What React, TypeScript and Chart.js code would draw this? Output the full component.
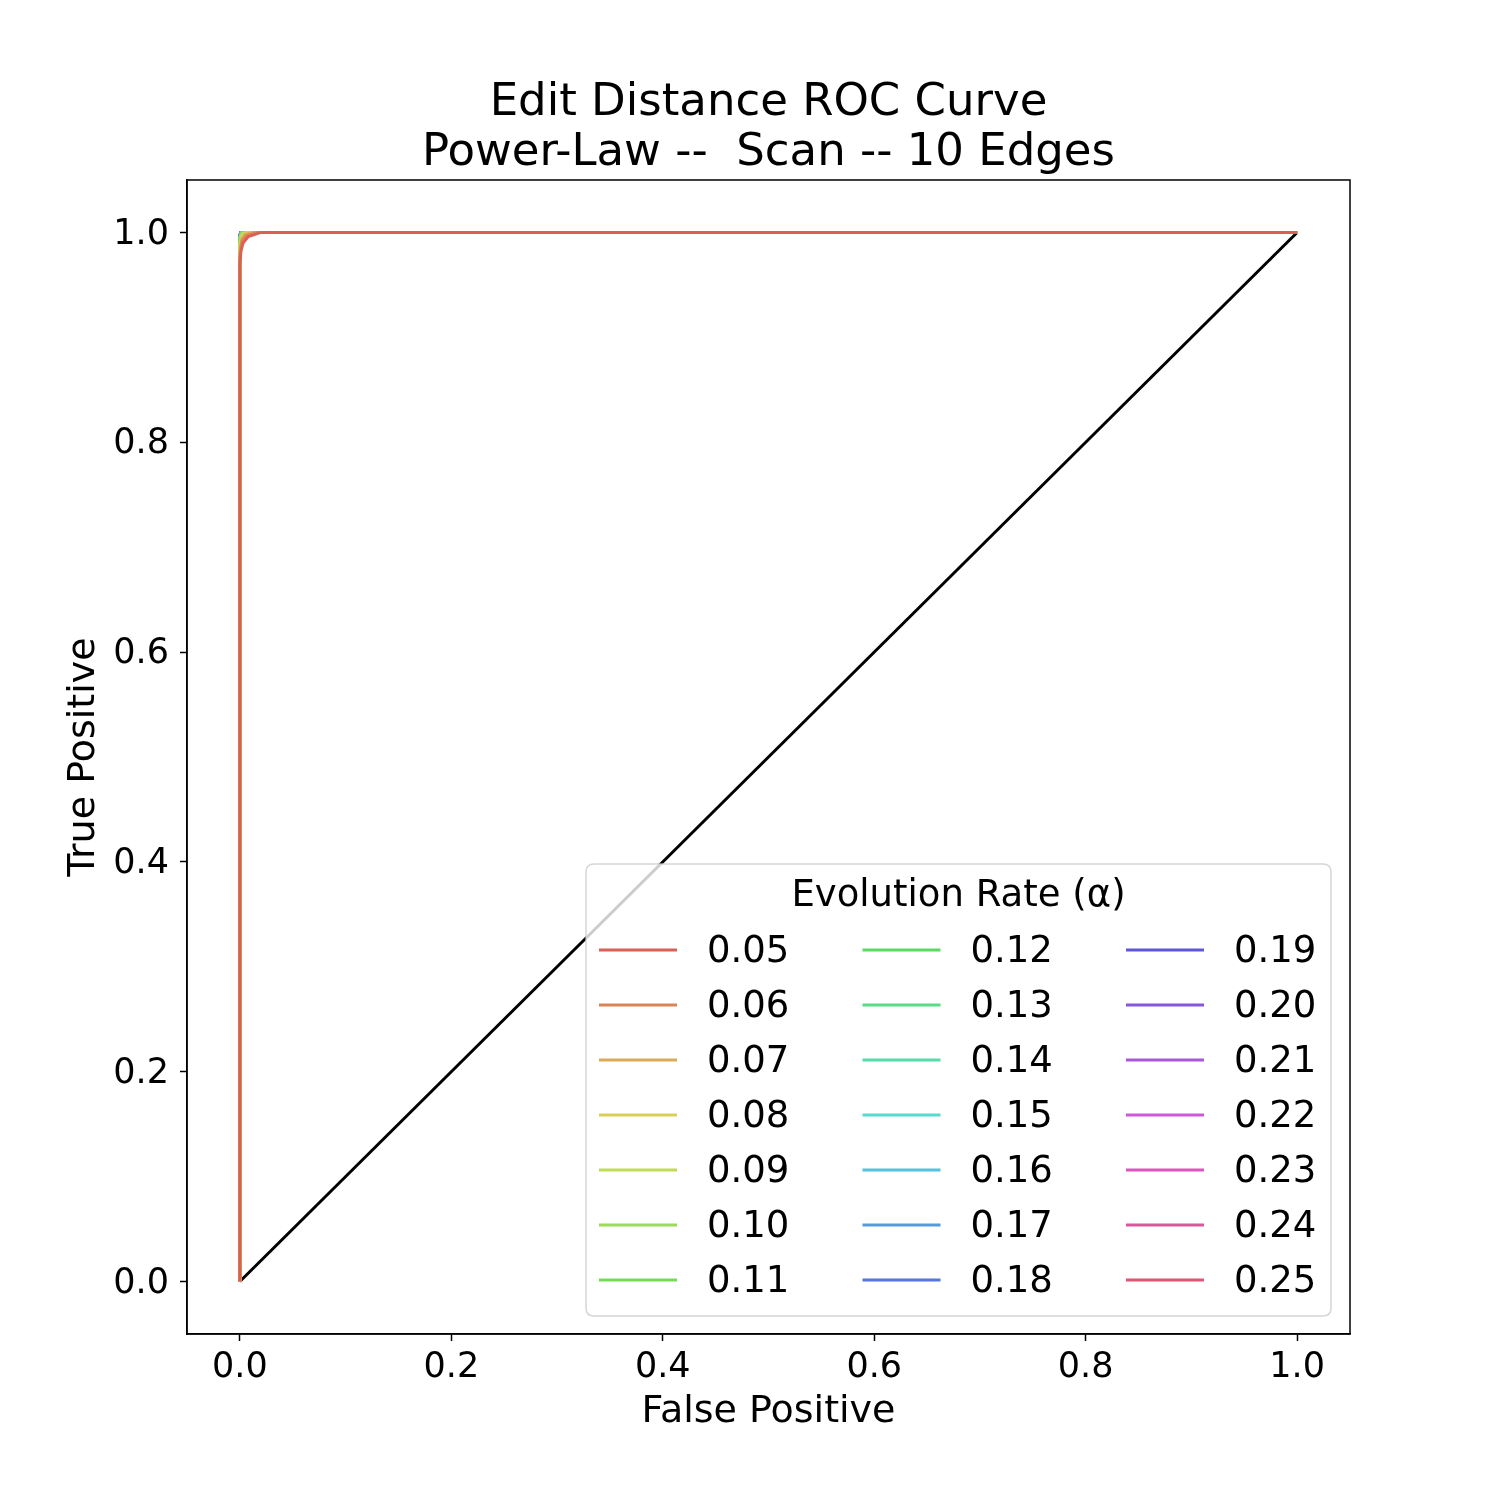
import React, { useEffect, useRef } from "react";
import { Chart, registerables } from "chart.js";

Chart.register(...registerables);

const titleLines = ["Edit Distance ROC Curve", "Power-Law --  Scan -- 10 Edges"];
const xAxisLabel = "False Positive";
const yAxisLabel = "True Positive";
const legendTitle = "Evolution Rate (\u03b1)";

const rateLabels = [
  "0.05", "0.06", "0.07", "0.08", "0.09", "0.10", "0.11",
  "0.12", "0.13", "0.14", "0.15", "0.16", "0.17", "0.18",
  "0.19", "0.20", "0.21", "0.22", "0.23", "0.24", "0.25",
];

const rateColors = [
  "#db5f57", "#db8557", "#dbaa57", "#dbd057", "#c0db57", "#9bdb57", "#75db57",
  "#57db5f", "#57db85", "#57dbaa", "#57dbd0", "#57c0db", "#579bdb", "#5775db",
  "#5f57db", "#8557db", "#aa57db", "#d057db", "#db57c0", "#db579b", "#db5775",
];

// False positive rate per series
const rocFpr = [
  [0, 0, 0.001, 0.003, 0.008, 0.02, 1],
  [0, 0, 0.001, 0.002, 0.006, 0.016, 1],
  [0, 0, 0.001, 0.002, 0.005, 0.012, 1],
  [0, 0, 0.0005, 0.002, 0.004, 0.009, 1],
  [0, 0, 0.0005, 0.001, 0.003, 0.007, 1],
  [0, 0, 0.0005, 0.001, 0.002, 0.005, 1],
  [0, 0, 0.0005, 0.001, 0.002, 0.004, 1],
  [0, 0, 0.0005, 0.001, 0.002, 0.003, 1],
  [0, 0, 0.0005, 0.001, 0.0015, 0.003, 1],
  [0, 0, 0.0005, 0.001, 0.0015, 0.002, 1],
  [0, 0, 0.0005, 0.001, 0.0015, 0.002, 1],
  [0, 0, 0.0005, 0.001, 0.0015, 0.002, 1],
  [0, 0, 0.0005, 0.001, 0.0015, 0.002, 1],
  [0, 0, 0.0005, 0.001, 0.0015, 0.002, 1],
  [0, 0, 0.0005, 0.001, 0.0015, 0.002, 1],
  [0, 0, 0.0005, 0.001, 0.0015, 0.002, 1],
  [0, 0, 0.0005, 0.001, 0.0015, 0.002, 1],
  [0, 0, 0.0005, 0.001, 0.0015, 0.002, 1],
  [0, 0, 0.0005, 0.001, 0.0015, 0.002, 1],
  [0, 0, 0.0005, 0.001, 0.0015, 0.002, 1],
  [0, 0, 0.0005, 0.001, 0.0015, 0.002, 1],
];

// True positive rate per series
const rocTpr = [
  [0, 0.97, 0.982, 0.99, 0.996, 1, 1],
  [0, 0.975, 0.985, 0.992, 0.997, 1, 1],
  [0, 0.98, 0.988, 0.994, 0.998, 1, 1],
  [0, 0.984, 0.99, 0.995, 0.998, 1, 1],
  [0, 0.987, 0.992, 0.996, 0.999, 1, 1],
  [0, 0.99, 0.994, 0.997, 0.999, 1, 1],
  [0, 0.991, 0.995, 0.998, 0.999, 1, 1],
  [0, 0.992, 0.996, 0.998, 0.999, 1, 1],
  [0, 0.993, 0.996, 0.998, 0.999, 1, 1],
  [0, 0.994, 0.997, 0.999, 1, 1, 1],
  [0, 0.994, 0.997, 0.999, 1, 1, 1],
  [0, 0.995, 0.997, 0.999, 1, 1, 1],
  [0, 0.995, 0.998, 0.999, 1, 1, 1],
  [0, 0.996, 0.998, 0.999, 1, 1, 1],
  [0, 0.996, 0.998, 0.999, 1, 1, 1],
  [0, 0.997, 0.998, 0.999, 1, 1, 1],
  [0, 0.997, 0.999, 1, 1, 1, 1],
  [0, 0.997, 0.999, 1, 1, 1, 1],
  [0, 0.998, 0.999, 1, 1, 1, 1],
  [0, 0.998, 0.999, 1, 1, 1, 1],
  [0, 0.998, 0.999, 1, 1, 1, 1],
];

const chanceFpr = [0, 1];
const chanceTpr = [0, 1];

const xTickValues = [0, 0.2, 0.4, 0.6, 0.8, 1.0];
const yTickValues = [0, 0.2, 0.4, 0.6, 0.8, 1.0];

const FONT = "'DejaVu Sans', 'Liberation Sans', sans-serif";

const framePlugin = {
  id: "frame",
  afterDatasetsDraw(chart: any) {
    const { ctx, chartArea } = chart;
    ctx.save();
    ctx.strokeStyle = "#000";
    ctx.lineWidth = 1.5;
    ctx.strokeRect(chartArea.left, chartArea.top, chartArea.right - chartArea.left, chartArea.bottom - chartArea.top);
    ctx.restore();
  },
};

const legendPlugin = {
  id: "customLegend",
  afterDatasetsDraw(chart: any) {
    const { ctx, chartArea } = chart;
    const w = 745;
    const h = 452;
    const right = chartArea.right - 19;
    const bottom = chartArea.bottom - 18;
    const left = right - w;
    const top = bottom - h;
    ctx.save();
    ctx.beginPath();
    const r = 8;
    ctx.moveTo(left + r, top);
    ctx.lineTo(right - r, top);
    ctx.quadraticCurveTo(right, top, right, top + r);
    ctx.lineTo(right, bottom - r);
    ctx.quadraticCurveTo(right, bottom, right - r, bottom);
    ctx.lineTo(left + r, bottom);
    ctx.quadraticCurveTo(left, bottom, left, bottom - r);
    ctx.lineTo(left, top + r);
    ctx.quadraticCurveTo(left, top, left + r, top);
    ctx.closePath();
    ctx.fillStyle = "rgba(255,255,255,0.8)";
    ctx.fill();
    ctx.strokeStyle = "rgba(204,204,204,0.8)";
    ctx.lineWidth = 1.5;
    ctx.stroke();

    ctx.fillStyle = "#000";
    ctx.font = `37px ${FONT}`;
    ctx.textAlign = "center";
    ctx.textBaseline = "middle";
    ctx.fillText(legendTitle, left + w / 2, top + 32);

    const rows = 7;
    const colW = 263.5;
    const rowH = 55;
    const ds = chart.data.datasets.filter((d: any) => d.inLegend);
    ds.forEach((d: any, i: number) => {
      const col = Math.floor(i / rows);
      const row = i % rows;
      const x0 = left + 13 + col * colW;
      const y = top + 86 + row * rowH;
      ctx.strokeStyle = d.borderColor;
      ctx.lineWidth = 3;
      ctx.beginPath();
      ctx.moveTo(x0, y);
      ctx.lineTo(x0 + 78, y);
      ctx.stroke();
      ctx.fillStyle = "#000";
      ctx.textAlign = "left";
      ctx.fillText(d.label, x0 + 108, y + 2);
    });
    ctx.restore();
  },
};

export default function App() {
  const ref = useRef<HTMLCanvasElement | null>(null);

  useEffect(() => {
    if (!ref.current) return;
    const datasets: any[] = rateLabels.map((label, i) => ({
      label,
      inLegend: true,
      data: rocFpr[i].map((x, j) => ({ x, y: rocTpr[i][j] })),
      borderColor: rateColors[i],
      backgroundColor: rateColors[i],
      borderWidth: 3,
      pointRadius: 0,
      tension: 0,
      fill: false,
    }));
    datasets.push({
      label: "chance",
      inLegend: false,
      data: chanceFpr.map((x, j) => ({ x, y: chanceTpr[j] })),
      borderColor: "#000",
      backgroundColor: "#000",
      borderWidth: 3,
      pointRadius: 0,
      tension: 0,
      fill: false,
    });

    const tickFont = { family: FONT, size: 35 };
    const chart = new Chart(ref.current, {
      type: "line",
      data: { datasets },
      plugins: [framePlugin, legendPlugin],
      options: {
        animation: false,
        responsive: false,
        layout: { padding: { top: 0, right: 150, bottom: 0, left: 0 } },
        plugins: {
          legend: { display: false },
          tooltip: { enabled: false },
          title: {
            display: true,
            text: titleLines,
            color: "#000",
            font: { family: FONT, size: 45, weight: "normal", lineHeight: 1.111 },
            padding: { top: 78, bottom: 2 },
            fullSize: false,
          },
        },
        scales: {
          x: {
            type: "linear",
            min: -0.05,
            max: 1.05,
            afterBuildTicks: (s: any) => {
              s.ticks = xTickValues.map((v) => ({ value: v }));
            },
            afterFit: (s: any) => {
              s.height = 166;
            },
            ticks: {
              color: "#000",
              font: tickFont,
              padding: 6,
              maxRotation: 0,
              autoSkip: false,
              callback: (v: any) => Number(v).toFixed(1),
            },
            grid: {
              drawOnChartArea: false,
              drawTicks: true,
              tickLength: 7,
              tickWidth: 1.5,
              tickColor: "#000",
            },
            border: { display: true, color: "#000", width: 1.5 },
            title: {
              display: true,
              text: xAxisLabel,
              color: "#000",
              font: { family: FONT, size: 38, lineHeight: 1.2 },
              padding: { top: 65, bottom: 65 },
            },
          },
          y: {
            type: "linear",
            min: -0.05,
            max: 1.05,
            afterBuildTicks: (s: any) => {
              s.ticks = yTickValues.map((v) => ({ value: v }));
            },
            afterFit: (s: any) => {
              s.width = 187;
            },
            ticks: {
              color: "#000",
              font: tickFont,
              padding: 11,
              labelOffset: 2,
              autoSkip: false,
              callback: (v: any) => Number(v).toFixed(1),
            },
            grid: {
              drawOnChartArea: false,
              drawTicks: true,
              tickLength: 7,
              tickWidth: 1.5,
              tickColor: "#000",
            },
            border: { display: true, color: "#000", width: 1.5 },
            title: {
              display: true,
              text: yAxisLabel,
              color: "#000",
              font: { family: FONT, size: 38, lineHeight: 1.2 },
              padding: { top: 61, bottom: 61 },
            },
          },
        },
      } as any,
    });
    return () => chart.destroy();
  }, []);

  return (
    <div style={{ position: "absolute", left: 0, top: 0, width: 1500, height: 1500, background: "#fff" }}>
      <canvas ref={ref} width={1500} height={1500} style={{ width: 1500, height: 1500, display: "block" }} />
    </div>
  );
}
